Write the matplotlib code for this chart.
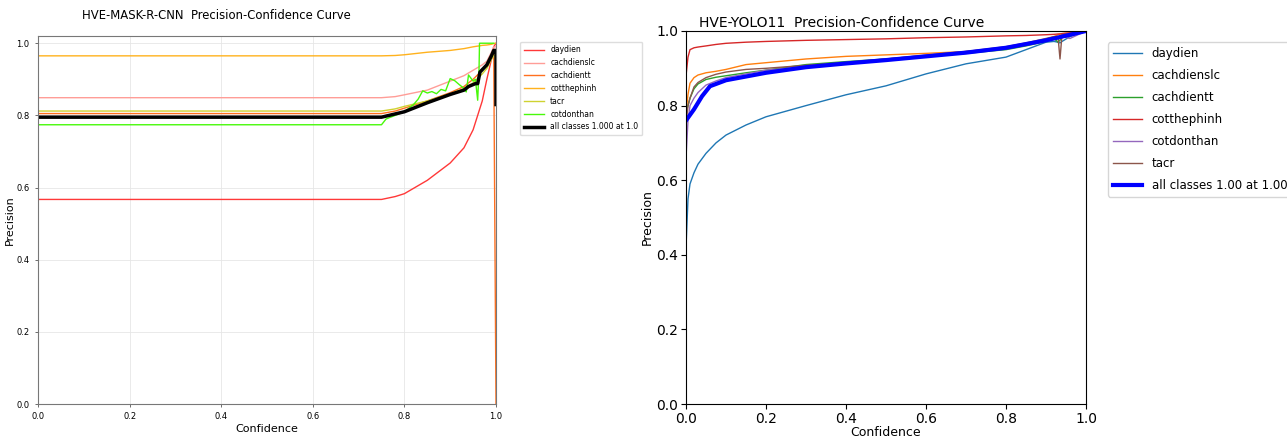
import matplotlib
matplotlib.use("Agg")
import matplotlib.pyplot as plt

# ---------------- HVE-MASK-R-CNN precision-confidence data ----------------
mask_names = ["daydien", "cachdienslc", "cachdientt", "cotthephinh", "tacr", "cotdonthan"]
mask_colors = ["#FF3838", "#FF9D97", "#FF701F", "#FFB21D", "#CFD231", "#48F90A"]

mask_x = [0.0, 0.75, 0.78, 0.80, 0.85, 0.90, 0.93, 0.95, 0.97, 0.98, 0.99, 0.995, 1.0]
mask_daydien = [0.567, 0.567, 0.575, 0.583, 0.620, 0.668, 0.710, 0.760, 0.840, 0.900, 0.955, 0.990, 1.0]
mask_cachdienslc = [0.849, 0.849, 0.852, 0.857, 0.870, 0.895, 0.910, 0.925, 0.940, 0.950, 0.975, 0.990, 0.99]
mask_cachdientt = [0.805, 0.805, 0.812, 0.820, 0.840, 0.863, 0.880, 0.900, 0.925, 0.940, 0.965, 0.975, 0.0]
mask_cotthephinh = [0.965, 0.965, 0.966, 0.968, 0.975, 0.980, 0.985, 0.990, 0.994, 0.995, 0.997, 0.999, 1.0]
mask_tacr = [0.812, 0.812, 0.818, 0.825, 0.840, 0.860, 0.875, 0.890, 0.915, 0.930, 0.955, 0.965, 0.97]

mask_cotdonthan_x = [0.0, 0.75, 0.76, 0.78, 0.80, 0.82, 0.83, 0.84, 0.85, 0.86, 0.87, 0.88,
                     0.89, 0.90, 0.91, 0.92, 0.93, 0.935, 0.94, 0.95, 0.955, 0.96, 0.963,
                     0.964, 0.97, 0.995]
mask_cotdonthan = [0.774, 0.774, 0.790, 0.800, 0.810, 0.830, 0.845, 0.868, 0.862, 0.866, 0.860, 0.872,
                   0.868, 0.902, 0.896, 0.885, 0.875, 0.865, 0.912, 0.895, 0.900, 0.842, 0.930,
                   1.0, 1.0, 1.0]

mask_all_x = [0.0, 0.75, 0.80, 0.85, 0.90, 0.93, 0.94, 0.955, 0.96, 0.965, 0.98, 0.99, 0.995, 1.0, 1.0]
mask_all = [0.795, 0.795, 0.810, 0.835, 0.858, 0.870, 0.880, 0.888, 0.888, 0.920, 0.940, 0.965, 0.980, 0.98, 0.83]
mask_all_label = "all classes 1.000 at 1.0"

# ---------------- HVE-YOLO11 precision-confidence data ----------------
yolo_names = ["daydien", "cachdienslc", "cachdientt", "cotthephinh", "cotdonthan", "tacr"]
yolo_colors = ["tab:blue", "tab:orange", "tab:green", "tab:red", "tab:purple", "tab:brown"]

yolo_x = [0.0, 0.005, 0.01, 0.02, 0.03, 0.05, 0.075, 0.10, 0.15, 0.20, 0.30, 0.40, 0.50, 0.60,
          0.70, 0.80, 0.85, 0.90, 0.92, 0.93, 0.935, 0.94, 0.96, 1.0]
yolo_daydien = [0.42, 0.55, 0.59, 0.62, 0.643, 0.672, 0.700, 0.721, 0.748, 0.770, 0.800, 0.829, 0.853, 0.885,
                0.912, 0.930, 0.950, 0.970, 0.972, 0.970, 0.968, 0.972, 0.985, 1.0]
yolo_cachdienslc = [0.78, 0.83, 0.86, 0.875, 0.882, 0.888, 0.892, 0.897, 0.910, 0.915, 0.925, 0.932, 0.936, 0.940,
                    0.945, 0.955, 0.965, 0.978, 0.985, 0.990, 0.992, 0.993, 0.995, 1.0]
yolo_cachdientt = [0.78, 0.80, 0.82, 0.845, 0.858, 0.870, 0.876, 0.880, 0.888, 0.895, 0.910, 0.918, 0.925, 0.932,
                   0.940, 0.950, 0.960, 0.972, 0.980, 0.970, 0.975, 0.990, 0.993, 1.0]
yolo_cotthephinh = [0.88, 0.93, 0.95, 0.955, 0.957, 0.960, 0.964, 0.967, 0.970, 0.972, 0.975, 0.977, 0.979, 0.982,
                    0.984, 0.987, 0.988, 0.990, 0.991, 0.992, 0.992, 0.993, 0.995, 1.0]
yolo_cotdonthan = [0.66, 0.76, 0.80, 0.82, 0.835, 0.855, 0.866, 0.875, 0.885, 0.895, 0.905, 0.915, 0.925, 0.935,
                   0.945, 0.955, 0.965, 0.975, 0.980, 0.982, 0.983, 0.985, 0.980, 1.0]
yolo_tacr = [0.75, 0.80, 0.82, 0.85, 0.862, 0.875, 0.884, 0.890, 0.897, 0.900, 0.908, 0.915, 0.925, 0.935,
             0.945, 0.958, 0.968, 0.980, 0.985, 0.985, 0.925, 0.990, 0.993, 1.0]

yolo_all_x = [0.0, 0.02, 0.04, 0.06, 0.10, 0.20, 0.30, 0.40, 0.50, 0.60, 0.70, 0.80, 0.90, 1.0]
yolo_all = [0.76, 0.79, 0.825, 0.852, 0.868, 0.888, 0.903, 0.913, 0.922, 0.932, 0.942, 0.955, 0.975, 1.0]
yolo_all_label = "all classes 1.00 at 1.00"

# ---------------- figure ----------------
fig = plt.figure(figsize=(12.87, 4.37), dpi=100)

# Left panel: Mask R-CNN
ax1 = fig.add_axes([38 / 1287, 1 - 404 / 437, (496 - 38) / 1287, (404 - 36) / 437])
mask_series = [mask_daydien, mask_cachdienslc, mask_cachdientt, mask_cotthephinh, mask_tacr]
for name, col, ys in zip(mask_names[:5], mask_colors[:5], mask_series):
    ax1.plot(mask_x, ys, color=col, lw=1.0, label=name)
ax1.plot(mask_cotdonthan_x, mask_cotdonthan, color=mask_colors[5], lw=1.0, label=mask_names[5])
ax1.plot(mask_all_x, mask_all, color="black", lw=2.5, label=mask_all_label)
ax1.set_xlim(0, 1)
ax1.set_ylim(0, 1.02)
ax1.set_xticks([0, 0.2, 0.4, 0.6, 0.8, 1.0])
ax1.set_yticks([0, 0.2, 0.4, 0.6, 0.8, 1.0])
ax1.grid(True, color="#e6e6e6", lw=0.6)
ax1.tick_params(labelsize=6, length=2.5, width=0.6, color="#555555")
for s in ax1.spines.values():
    s.set_color("#777777")
ax1.set_xlabel("Confidence", fontsize=8, labelpad=2)
ax1.set_ylabel("Precision", fontsize=8, labelpad=1)
ax1.set_title("HVE-MASK-R-CNN  Precision-Confidence Curve", fontsize=8.4, pad=12, x=0.389)
ax1.legend(loc="upper left", bbox_to_anchor=(1.045, 0.995), fontsize=5.5,
           handlelength=2.6, framealpha=1, edgecolor="#dddddd", borderpad=0.5)

# Right panel: YOLO11
ax2 = fig.add_axes([686 / 1287, 1 - 404 / 437, (1086 - 686) / 1287, (404 - 31) / 437])
yolo_series = [yolo_daydien, yolo_cachdienslc, yolo_cachdientt, yolo_cotthephinh, yolo_cotdonthan, yolo_tacr]
for name, col, ys in zip(yolo_names, yolo_colors, yolo_series):
    ax2.plot(yolo_x, ys, color=col, lw=1.0, label=name)
ax2.plot(yolo_all_x, yolo_all, color="blue", lw=3, label=yolo_all_label)
ax2.set_xlim(0, 1)
ax2.set_ylim(0, 1)
ax2.set_xticks([0, 0.2, 0.4, 0.6, 0.8, 1.0])
ax2.set_yticks([0, 0.2, 0.4, 0.6, 0.8, 1.0])
ax2.tick_params(labelsize=10, pad=2)
ax2.set_xlabel("Confidence", fontsize=9, labelpad=0)
ax2.set_ylabel("Precision", fontsize=9, labelpad=2)
ax2.set_title("HVE-YOLO11  Precision-Confidence Curve", fontsize=10, pad=3, x=0.39)
ax2.legend(loc="upper left", bbox_to_anchor=(1.04, 0.985), fontsize=8.5,
           handlelength=2.5, labelspacing=0.76)

fig.savefig("out.png", dpi=100)
